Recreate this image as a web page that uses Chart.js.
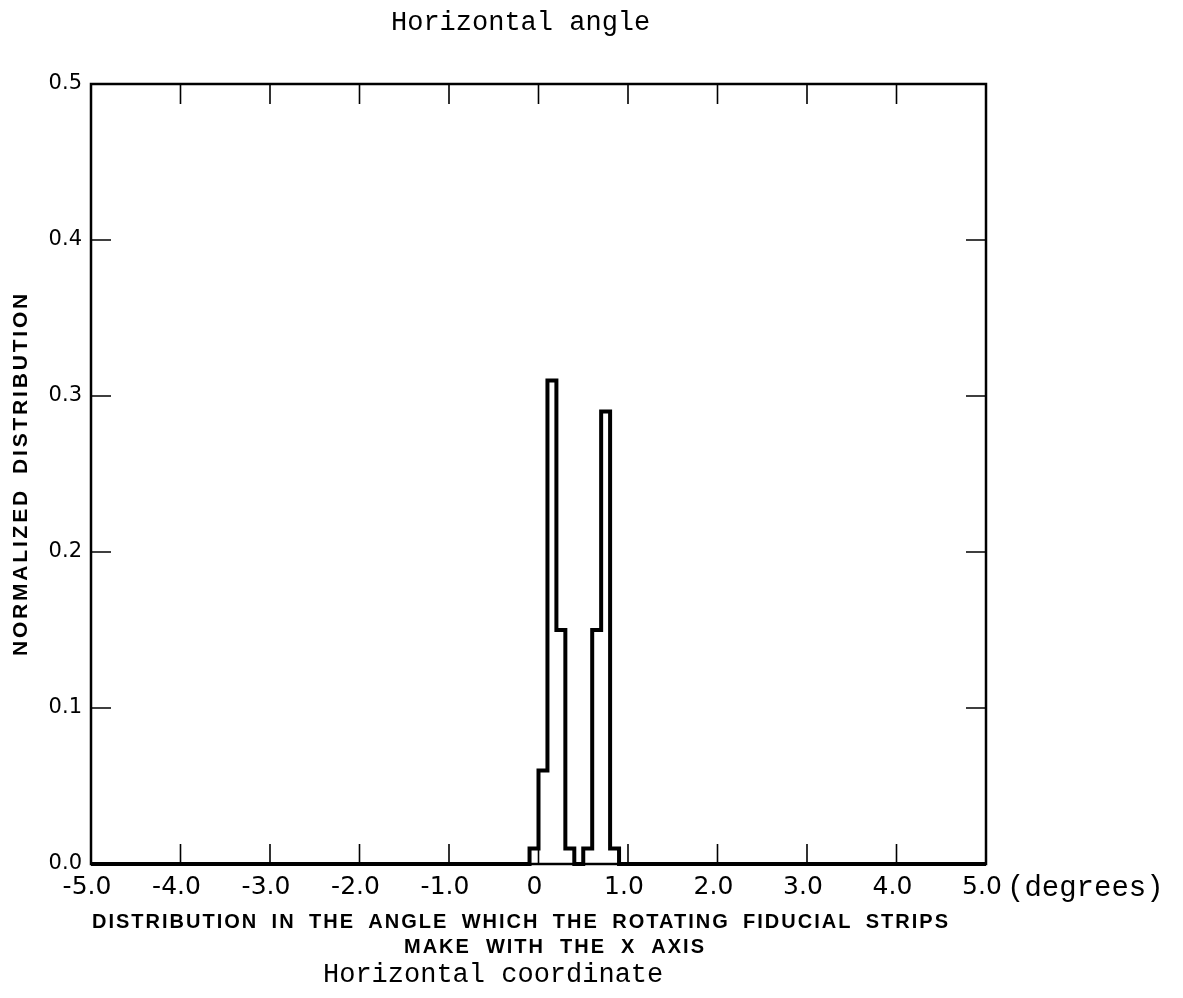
<!DOCTYPE html>
<html>
<head>
<meta charset="utf-8">
<title>Horizontal angle</title>
<script src="https://cdn.jsdelivr.net/npm/chart.js@4.4.0/dist/chart.umd.min.js"></script>
<style>
  html, body { margin: 0; padding: 0; background: #fff; }
  canvas { display: block; }
</style>
</head>
<body>
<canvas id="lienzo" width="1183" height="998"></canvas>
<script>
// Histograma: borde izquierdo de cada intervalo (grados) y su altura normalizada
const binStarts = [-0.1, 0.0, 0.1, 0.2, 0.3, 0.4, 0.5, 0.6, 0.7, 0.8];
const distribution = [0.01, 0.06, 0.31, 0.15, 0.01, 0.00, 0.01, 0.15, 0.29, 0.01];
const binWidth = 0.1;

// Etiquetas de los ejes
const xTickLabels = ['-5.0', '-4.0', '-3.0', '-2.0', '-1.0', '0', '1.0', '2.0', '3.0', '4.0', '5.0'];
const yTickLabels = ['0.0', '0.1', '0.2', '0.3', '0.4', '0.5'];

const tituloSuperior = 'Horizontal angle';
const tituloEjeX = ['DISTRIBUTION IN THE ANGLE WHICH THE ROTATING FIDUCIAL STRIPS', 'MAKE WITH THE X AXIS'];
const tituloEjeY = 'NORMALIZED DISTRIBUTION';
const subtitulo = 'Horizontal coordinate';
const unidades = '(degrees)';

const xMin = -5, xMax = 5;
const yMin = 0, yMax = 0.5;

// Puntos del contorno escalonado (cada punto mantiene su altura hasta el siguiente)
let puntos = [{ x: xMin, y: 0 }];
for (let i = 0; i < binStarts.length; i++) {
  puntos.push({ x: binStarts[i], y: distribution[i] });
}
puntos.push({ x: binStarts[binStarts.length - 1] + binWidth, y: 0 });
puntos.push({ x: xMax, y: 0 });

// Texto rotulado: espaciado fijo entre letras y huecos entre palabras para ocupar un ancho dado
function textoAjustado(ctx, texto, x, y, ancho, letras) {
  ctx.letterSpacing = letras + 'px';
  ctx.wordSpacing = '0px';
  const natural = ctx.measureText(texto).width;
  const huecos = texto.split(' ').length - 1;
  if (huecos > 0) ctx.wordSpacing = Math.max(0, (ancho - natural) / huecos) + 'px';
  ctx.fillText(texto, x, y);
  ctx.letterSpacing = '0px';
  ctx.wordSpacing = '0px';
}

// Marco del gráfico y marcas interiores en los cuatro lados
const marco = {
  id: 'marco',
  beforeDatasetsDraw(chart) {
    const { ctx, chartArea: a, scales: { x, y } } = chart;
    ctx.save();
    ctx.strokeStyle = '#000';
    ctx.lineWidth = 1.6;
    ctx.beginPath();
    x.ticks.forEach(t => {
      if (t.value <= xMin || t.value >= xMax) return;
      const px = x.getPixelForValue(t.value);
      ctx.moveTo(px, a.bottom); ctx.lineTo(px, a.bottom - 20);
      ctx.moveTo(px, a.top); ctx.lineTo(px, a.top + 20);
    });
    y.ticks.forEach(t => {
      if (t.value <= yMin + 1e-9 || t.value >= yMax - 1e-9) return;
      const py = y.getPixelForValue(t.value);
      ctx.moveTo(a.left, py); ctx.lineTo(a.left + 20, py);
      ctx.moveTo(a.right, py); ctx.lineTo(a.right - 20, py);
    });
    ctx.stroke();
    ctx.lineWidth = 2.5;
    ctx.strokeRect(a.left, a.top, a.width, a.height);
    ctx.restore();
  }
};

// Títulos y leyendas de texto
const textos = {
  id: 'textos',
  afterDraw(chart) {
    const { ctx, chartArea: a } = chart;
    ctx.save();
    ctx.fillStyle = '#000';
    ctx.textBaseline = 'alphabetic';
    ctx.textAlign = 'left';

    ctx.font = '27px "Liberation Mono"';
    ctx.fillText(tituloSuperior, 391, 30);
    ctx.fillText(subtitulo, 323, a.bottom + 118);

    ctx.font = '29px "Liberation Mono"';
    ctx.fillText(unidades, a.right + 21, a.bottom + 32);

    ctx.font = 'bold 20px "Liberation Sans"';
    textoAjustado(ctx, tituloEjeX[0], a.left + 1, a.bottom + 64, 858, 2);
    textoAjustado(ctx, tituloEjeX[1], 404, a.bottom + 89, 302, 2);

    ctx.font = 'bold 21px "Liberation Sans"';
    ctx.translate(27, (a.top + a.bottom) / 2);
    ctx.rotate(-Math.PI / 2);
    textoAjustado(ctx, tituloEjeY, -182, 0, 365, 2.8);
    ctx.restore();
  }
};

const ctx = document.getElementById('lienzo').getContext('2d');

const grafico = new Chart(ctx, {
  type: 'line',
  data: {
    datasets: [{
      data: puntos,
      stepped: 'before',
      borderColor: '#000',
      borderWidth: 4,
      borderJoinStyle: 'miter',
      pointRadius: 0,
      fill: false,
      clip: 4
    }]
  },
  options: {
    responsive: false,
    animation: false,
    layout: { padding: { top: 84, right: 197, bottom: 0, left: 0 } },
    plugins: {
      legend: { display: false },
      tooltip: { enabled: false },
      title: { display: false }
    },
    scales: {
      x: {
        type: 'linear',
        min: xMin,
        max: xMax,
        grid: { display: false, drawTicks: false },
        border: { display: false },
        ticks: {
          stepSize: 1,
          autoSkip: false,
          maxRotation: 0,
          padding: 8,
          labelOffset: -4,
          color: '#000',
          font: { family: "'DejaVu Sans', sans-serif", size: 25 },
          callback: (v, i) => xTickLabels[i]
        },
        afterFit: s => { s.height = 134; }
      },
      y: {
        min: yMin,
        max: yMax,
        grid: { display: false, drawTicks: false },
        border: { display: false },
        ticks: {
          stepSize: 0.1,
          autoSkip: false,
          padding: 9,
          color: '#000',
          font: { family: "'DejaVu Sans', sans-serif", size: 21 },
          callback: (v, i) => yTickLabels[i]
        },
        afterFit: s => { s.width = 91; }
      }
    }
  },
  plugins: [marco, textos]
});
</script>
</body>
</html>
